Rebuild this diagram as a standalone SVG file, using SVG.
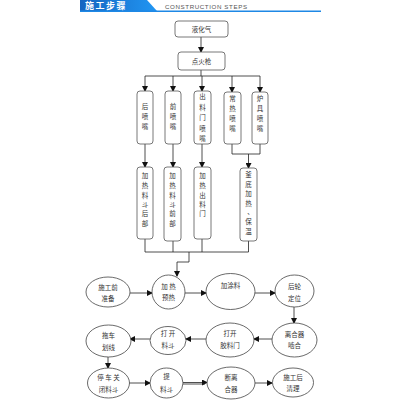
<svg xmlns="http://www.w3.org/2000/svg" width="400" height="400" viewBox="0 0 400 400">
<defs>
<linearGradient id="bn" x1="0" y1="0" x2="1" y2="0"><stop offset="0" stop-color="#1565c0"/><stop offset="1" stop-color="#2196f3"/></linearGradient>
<marker id="ar" markerWidth="6" markerHeight="6" refX="5" refY="3" orient="auto" markerUnits="userSpaceOnUse"><path d="M0,0 L6,3 L0,6 Z" fill="#111"/></marker>
</defs>
<style>
.bx{fill:#fff;stroke:#555;stroke-width:0.8}
.el{fill:#fff;stroke:#444;stroke-width:0.8}
.t{font-family:"Noto Sans CJK SC","Liberation Sans",sans-serif;font-size:6.5px;fill:#333;text-anchor:middle}
.ln{fill:none;stroke:#222;stroke-width:0.8}
.ar{fill:none;stroke:#222;stroke-width:0.8;marker-end:url(#ar)}
</style>
<rect width="400" height="400" fill="#fff"/>
<g id="header">
<path d="M80,0 H147 L157,11 H80 Z" fill="url(#bn)"/>
<rect x="80" y="10.5" width="241" height="1.5" fill="#1e88e5"/>
<text x="85" y="9" font-family="Noto Sans CJK SC,sans-serif" font-size="9" font-weight="bold" fill="#fff" letter-spacing="1.5">施工步骤</text>
<text x="165" y="9" font-family="Liberation Sans,sans-serif" font-size="6.2" fill="#555" letter-spacing="0.6">CONSTRUCTION STEPS</text>
</g>
<g id="connectors">
<path class="ar" d="M201,37 V52"/>
<path class="ln" d="M201,70 V76 M145,76 H260"/>
<path class="ar" d="M145,76 V91"/>
<path class="ar" d="M173,76 V91"/>
<path class="ar" d="M202,76 V91"/>
<path class="ar" d="M232,76 V92"/>
<path class="ar" d="M260,76 V92"/>
<path class="ar" d="M145,144 V167"/>
<path class="ar" d="M173,144 V167"/>
<path class="ar" d="M202,144 V167"/>
<path class="ln" d="M232,144 V154 H260 V144"/>
<path class="ar" d="M248.5,154 V168"/>
<path class="ln" d="M145,239 V252 H248.5 V241 M173,241 V252 M202,239 V252"/>
<path class="ln" d="M189,252 V262 H177"/>
<path class="ar" d="M177,262 V276"/>
<path class="ar" d="M130,293 H152"/>
<path class="ar" d="M185,293 H206"/>
<path class="ar" d="M255,293 H275"/>
<path class="ar" d="M294,307 V323"/>
<path class="ar" d="M272,339 H254"/>
<path class="ar" d="M206,339 H186"/>
<path class="ar" d="M150,339 H130"/>
<path class="ar" d="M108,357 V368"/>
<path class="ar" d="M129,383 H150"/>
<path class="ar" d="M183,382.5 H207"/>
<path class="ln" d="M183,384 H205"/>
<path class="ar" d="M255,383 H272"/>
</g>
<g id="n1"><rect class="bx" x="175" y="21" width="53" height="16" rx="3"/><text class="t" x="201.5" y="31.5">液化气</text></g>
<g id="n2"><rect class="bx" x="178" y="52" width="47" height="18" rx="3"/><text class="t" x="201.5" y="63.5">点火枪</text></g>
<g id="n3"><rect class="bx" x="137" y="91" width="16" height="53" rx="3"/><text class="t" x="145" y="109">后</text><text class="t" x="145" y="119">喷</text><text class="t" x="145" y="129">嘴</text></g>
<g id="n4"><rect class="bx" x="165" y="91" width="16" height="53" rx="3"/><text class="t" x="173" y="109">前</text><text class="t" x="173" y="119">喷</text><text class="t" x="173" y="129">嘴</text></g>
<g id="n5"><rect class="bx" x="194" y="91" width="17" height="53" rx="3"/><text class="t" x="202.5" y="99">出</text><text class="t" x="202.5" y="109.5">料</text><text class="t" x="202.5" y="120">门</text><text class="t" x="202.5" y="130.5">喷</text><text class="t" x="202.5" y="141">嘴</text></g>
<g id="n6"><rect class="bx" x="224" y="92" width="17" height="52" rx="3"/><text class="t" x="232.5" y="101">常</text><text class="t" x="232.5" y="111">热</text><text class="t" x="232.5" y="121">喷</text><text class="t" x="232.5" y="131">嘴</text></g>
<g id="n7"><rect class="bx" x="252" y="92" width="16" height="52" rx="3"/><text class="t" x="260" y="101">炉</text><text class="t" x="260" y="111">具</text><text class="t" x="260" y="121">喷</text><text class="t" x="260" y="131">嘴</text></g>
<g id="n8"><rect class="bx" x="137" y="167" width="16" height="72" rx="3"/><text class="t" x="145" y="178">加</text><text class="t" x="145" y="188">热</text><text class="t" x="145" y="198">料</text><text class="t" x="145" y="207">斗</text><text class="t" x="145" y="216">后</text><text class="t" x="145" y="226">部</text></g>
<g id="n9"><rect class="bx" x="164" y="167" width="17" height="74" rx="3"/><text class="t" x="172.5" y="178">加</text><text class="t" x="172.5" y="188">热</text><text class="t" x="172.5" y="198">料</text><text class="t" x="172.5" y="207">斗</text><text class="t" x="172.5" y="216">前</text><text class="t" x="172.5" y="226">部</text></g>
<g id="n10"><rect class="bx" x="194" y="167" width="17" height="72" rx="3"/><text class="t" x="202.5" y="178">加</text><text class="t" x="202.5" y="188">热</text><text class="t" x="202.5" y="198">出</text><text class="t" x="202.5" y="207">料</text><text class="t" x="202.5" y="216">门</text></g>
<g id="n11"><rect class="bx" x="240" y="168" width="17" height="73" rx="3"/><text class="t" x="248.5" y="177">釜</text><text class="t" x="248.5" y="186.5">底</text><text class="t" x="248.5" y="196">加</text><text class="t" x="248.5" y="205.5">热</text><text class="t" x="250.5" y="214" font-size="5">、</text><text class="t" x="248.5" y="224">保</text><text class="t" x="248.5" y="234">温</text></g>
<g id="e1"><ellipse class="el" cx="108" cy="292" rx="22" ry="15"/><text class="t" x="108" y="290">施工前</text><text class="t" x="108" y="301">准备</text></g>
<g id="e2"><ellipse class="el" cx="168.5" cy="292" rx="16.5" ry="17"/><text class="t" x="168.5" y="289">加 热</text><text class="t" x="168.5" y="300">预热</text></g>
<g id="e3"><ellipse class="el" cx="230.5" cy="291.5" rx="24.5" ry="18"/><text class="t" x="230.5" y="288">加涂料</text></g>
<g id="e4"><ellipse class="el" cx="294.5" cy="291" rx="19.5" ry="16"/><text class="t" x="294.5" y="289">后轮</text><text class="t" x="294.5" y="301">定位</text></g>
<g id="e5"><ellipse class="el" cx="294.5" cy="340" rx="22.5" ry="17"/><text class="t" x="294.5" y="337">离合器</text><text class="t" x="294.5" y="348">啮合</text></g>
<g id="e6"><ellipse class="el" cx="230" cy="340" rx="24" ry="17"/><text class="t" x="230" y="336">打开</text><text class="t" x="230" y="348">胶料门</text></g>
<g id="e7"><ellipse class="el" cx="168" cy="340.5" rx="18" ry="14"/><text class="t" x="168" y="336">打 开</text><text class="t" x="168" y="348">料斗</text></g>
<g id="e8"><ellipse class="el" cx="108.5" cy="341" rx="22.5" ry="16"/><text class="t" x="108.5" y="338">拖车</text><text class="t" x="108.5" y="350">划线</text></g>
<g id="e9"><ellipse class="el" cx="108.5" cy="383" rx="21" ry="15"/><text class="t" x="108.5" y="380">停 车 关</text><text class="t" x="108.5" y="392">闭料斗</text></g>
<g id="e10"><ellipse class="el" cx="166.5" cy="383" rx="16.5" ry="15"/><text class="t" x="166.5" y="379">提</text><text class="t" x="166.5" y="392">料斗</text></g>
<g id="e11"><ellipse class="el" cx="231" cy="383" rx="24" ry="16"/><text class="t" x="231" y="380">断离</text><text class="t" x="231" y="392">合器</text></g>
<g id="e12"><ellipse class="el" cx="293" cy="382.5" rx="20.5" ry="14.5"/><text class="t" x="293" y="380">施工后</text><text class="t" x="293" y="391">清理</text></g>
</svg>
